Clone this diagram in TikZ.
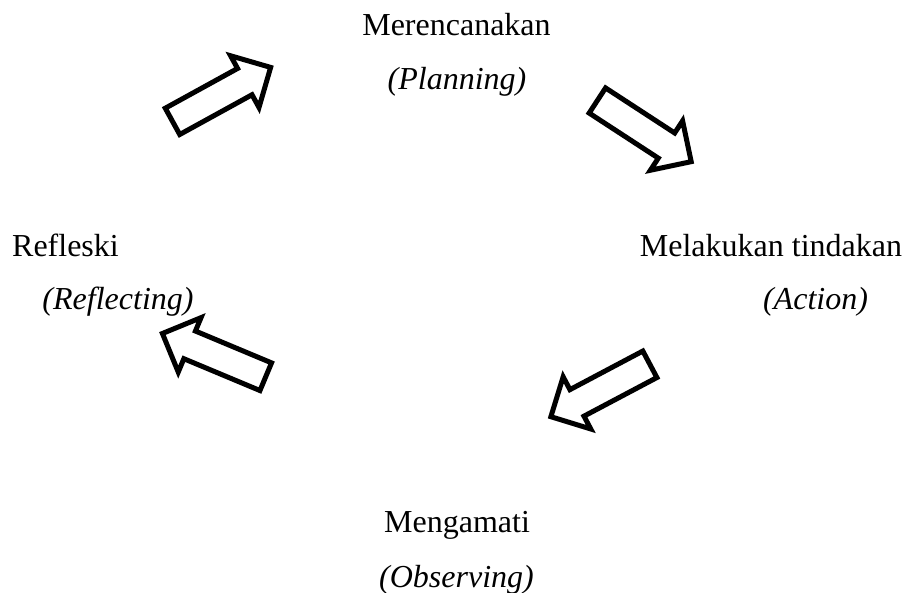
\documentclass[tikz,border=0pt]{standalone}
\usepackage{fontspec}
\setmainfont{Liberation Serif}
\usetikzlibrary{shapes.arrows}

\begin{document}
\begin{tikzpicture}[x=1pt,y=1pt,line join=miter,
    teks/.style={anchor=base,inner sep=0pt,font=\fontsize{32}{38}\selectfont},
    panah/.style={single arrow,draw=black,fill=white,line width=5pt,
      inner xsep=0pt,inner ysep=12.5pt,minimum height=112pt,
      minimum width=54pt,single arrow head extend=14.5pt}]
      \useasboundingbox (0,0) rectangle (905,593);
      % tahap siklus
      \node[teks] (plan) at (456.5,557) {Merencanakan};
      \node[teks] (planen) at (457,503) {\itshape(Planning)};
      \node[teks] (act) at (771,336) {Melakukan tindakan};
      \node[teks] (acten) at (815.5,283) {\itshape(Action)};
      \node[teks] (obs) at (457,60) {Mengamati};
      \node[teks] (obsen) at (456.5,5) {\itshape(Observing)};
      \node[teks] (refl) at (65.5,336) {Refleski};
      \node[teks] (reflen) at (118,283) {\itshape(Reflecting)};
      % panah blok di antara tahap
      \node[panah,rotate=28.8] (a1) at (215,495) {};
      \node[panah,rotate=-33.1] (a2) at (638,466) {};
      \node[panah,rotate=207.9] (a3) at (607,206) {};
      \node[panah,rotate=157.3] (a4) at (221,235) {};
    \end{tikzpicture}
\end{document}
